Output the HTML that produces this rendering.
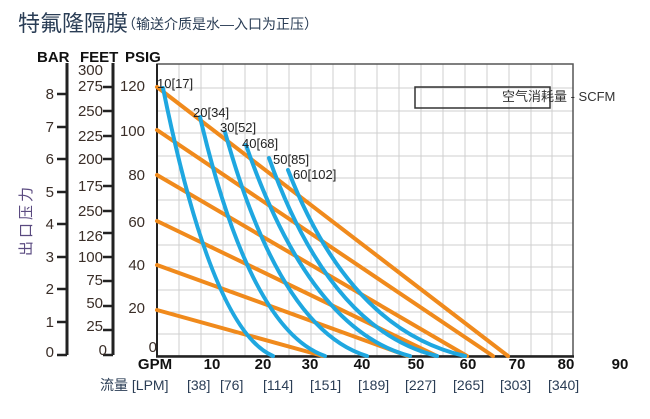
<!DOCTYPE html>
<html><head><meta charset="utf-8"><style>
html,body{margin:0;padding:0;background:#fff;}
svg{display:block;}
text{font-family:"Liberation Sans","Noto Sans CJK SC",sans-serif;}
</style></head><body>
<svg width="650" height="419" viewBox="0 0 650 419" xmlns="http://www.w3.org/2000/svg">
<text x="18" y="31" font-size="22" fill="#2a3d55">特氟隆隔膜</text>
<text x="122" y="29" font-size="14" fill="#2a3d55">（输送介质是水—入口为正压）</text>

<!-- grid -->
<g stroke="#cfcfcf" stroke-width="1">
<line x1="179" y1="64" x2="179" y2="356"/><line x1="201" y1="64" x2="201" y2="356"/><line x1="223" y1="64" x2="223" y2="356"/><line x1="245" y1="64" x2="245" y2="356"/><line x1="267" y1="64" x2="267" y2="356"/><line x1="289" y1="64" x2="289" y2="356"/><line x1="311" y1="64" x2="311" y2="356"/><line x1="333" y1="64" x2="333" y2="356"/><line x1="355" y1="64" x2="355" y2="356"/><line x1="377" y1="64" x2="377" y2="356"/><line x1="399" y1="64" x2="399" y2="356"/><line x1="421" y1="64" x2="421" y2="356"/><line x1="443" y1="64" x2="443" y2="356"/><line x1="465" y1="64" x2="465" y2="356"/><line x1="487" y1="64" x2="487" y2="356"/><line x1="509" y1="64" x2="509" y2="356"/><line x1="531" y1="64" x2="531" y2="356"/><line x1="552" y1="64" x2="552" y2="356"/>
<line x1="157" y1="334" x2="573" y2="334"/><line x1="157" y1="312" x2="573" y2="312"/><line x1="157" y1="290" x2="573" y2="290"/><line x1="157" y1="267" x2="573" y2="267"/><line x1="157" y1="245" x2="573" y2="245"/><line x1="157" y1="223" x2="573" y2="223"/><line x1="157" y1="200" x2="573" y2="200"/><line x1="157" y1="178" x2="573" y2="178"/><line x1="157" y1="156" x2="573" y2="156"/><line x1="157" y1="133" x2="573" y2="133"/><line x1="157" y1="111" x2="573" y2="111"/><line x1="157" y1="88" x2="573" y2="88"/>
</g>
<rect x="157" y="64" width="416" height="292" fill="none" stroke="#555" stroke-width="1.5"/>
<line x1="157" y1="64" x2="157" y2="357" stroke="#222" stroke-width="2"/>
<line x1="156" y1="356.5" x2="574" y2="356.5" stroke="#222" stroke-width="2.5"/>

<!-- orange -->
<g stroke="#f08a1c" stroke-width="4" stroke-linecap="round">
<line x1="157" y1="310" x2="323" y2="356"/>
<line x1="157" y1="265" x2="408" y2="356"/>
<line x1="157" y1="221" x2="437" y2="356"/>
<line x1="157" y1="175" x2="467" y2="356"/>
<line x1="157" y1="130" x2="493" y2="356"/>
<line x1="157" y1="87" x2="508" y2="356"/>
</g>
<!-- blue -->
<g stroke="#1fa7e0" stroke-width="4" fill="none" stroke-linecap="round">
<path d="M163,88 Q212,330 273,356"/>
<path d="M200,117 Q250,330 325,356"/>
<path d="M225,132 Q280,330 367,356"/>
<path d="M246,145 Q310,330 410,356"/>
<path d="M269,158 Q330,330 437,356"/>
<path d="M288,170 Q350,330 465,356"/>
</g>
<g font-size="13" fill="#222">
<text x="157" y="88">10[17]</text>
<text x="193" y="117">20[34]</text>
<text x="220" y="132">30[52]</text>
<text x="242" y="148">40[68]</text>
<text x="273" y="164">50[85]</text>
<text x="293" y="179">60[102]</text>
</g>
<rect x="415" y="87" width="135" height="21" fill="none" stroke="#333" stroke-width="1.5"/>
<text x="502" y="101" font-size="13" fill="#333">空气消耗量 - SCFM</text>

<!-- left axes -->
<g font-weight="bold" font-size="15" fill="#111">
<text x="37" y="62">BAR</text><text x="80" y="62">FEET</text><text x="125" y="62">PSIG</text>
</g>
<line x1="67" y1="63" x2="67" y2="355" stroke="#222" stroke-width="3"/>
<line x1="113" y1="63" x2="113" y2="355" stroke="#222" stroke-width="3"/>
<g stroke="#222" stroke-width="2.5">
<line x1="57" y1="94" x2="67" y2="94"/><line x1="57" y1="127" x2="67" y2="127"/><line x1="57" y1="159" x2="67" y2="159"/><line x1="57" y1="192" x2="67" y2="192"/><line x1="57" y1="224" x2="67" y2="224"/><line x1="57" y1="257" x2="67" y2="257"/><line x1="57" y1="289" x2="67" y2="289"/><line x1="57" y1="322" x2="67" y2="322"/><line x1="57" y1="355" x2="67" y2="355"/>
<line x1="103" y1="87" x2="113" y2="87"/><line x1="103" y1="111" x2="113" y2="111"/><line x1="103" y1="136" x2="113" y2="136"/><line x1="103" y1="159" x2="113" y2="159"/><line x1="103" y1="186" x2="113" y2="186"/><line x1="103" y1="211" x2="113" y2="211"/><line x1="103" y1="233" x2="113" y2="233"/><line x1="103" y1="257" x2="113" y2="257"/><line x1="103" y1="281" x2="113" y2="281"/><line x1="103" y1="306" x2="113" y2="306"/><line x1="103" y1="330" x2="113" y2="330"/><line x1="103" y1="355" x2="113" y2="355"/>
</g>
<g font-size="15" fill="#3a2e28" text-anchor="end">
<text x="54" y="99">8</text><text x="54" y="132">7</text><text x="54" y="164">6</text><text x="54" y="197">5</text><text x="54" y="229">4</text><text x="54" y="262">3</text><text x="54" y="294">2</text><text x="54" y="327">1</text><text x="54" y="357">0</text>
<text x="103" y="75">300</text><text x="103" y="91">275</text><text x="103" y="116">250</text><text x="103" y="141">225</text><text x="103" y="164">200</text><text x="103" y="191">175</text><text x="103" y="216">250</text><text x="103" y="241">126</text><text x="103" y="262">100</text><text x="103" y="285">75</text><text x="103" y="308">50</text><text x="103" y="331">25</text><text x="107" y="355">0</text>
<text x="145" y="91">120</text><text x="145" y="136">100</text><text x="145" y="180">80</text><text x="145" y="227">60</text><text x="145" y="270">40</text><text x="145" y="313">20</text><text x="157" y="352">0</text>
</g>
<text transform="translate(31,220) rotate(-90)" font-size="15" fill="#5a4a80" text-anchor="middle" letter-spacing="3">出口压力</text>

<!-- bottom axis -->
<g font-weight="bold" font-size="15" fill="#111" text-anchor="middle">
<text x="155" y="369">GPM</text><text x="212" y="369">10</text><text x="263" y="369">20</text><text x="310" y="369">30</text><text x="362" y="369">40</text><text x="416" y="369">50</text><text x="468" y="369">60</text><text x="517" y="369">70</text><text x="566" y="369">80</text><text x="620" y="369">90</text>
</g>
<g font-size="14" fill="#2a3d55">
<text x="100" y="390">流量 [LPM]</text><text x="187" y="390">[38]</text><text x="220" y="390">[76]</text><text x="263" y="390">[114]</text><text x="310" y="390">[151]</text><text x="358" y="390">[189]</text><text x="405" y="390">[227]</text><text x="453" y="390">[265]</text><text x="500" y="390">[303]</text><text x="548" y="390">[340]</text>
</g>
</svg>
</body></html>
